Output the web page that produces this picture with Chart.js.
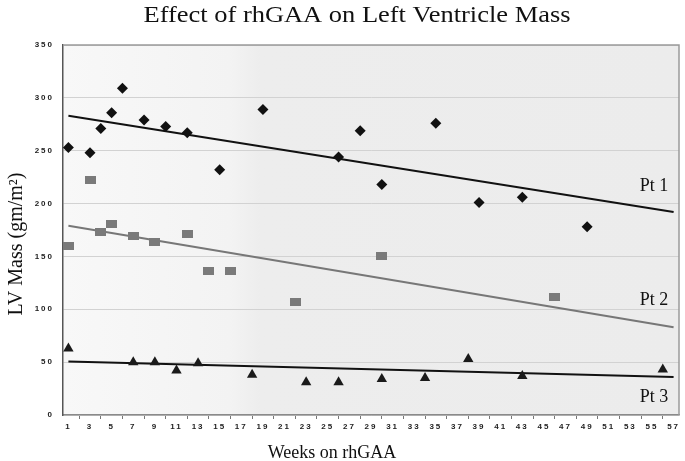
<!DOCTYPE html>
<html>
<head>
<meta charset="utf-8">
<script src="https://cdn.jsdelivr.net/npm/chart.js@4/dist/chart.umd.min.js"></script>
<style>
  html, body { margin: 0; padding: 0; background: #fff; }
  #wrap { width: 685px; height: 461px; }
</style>
</head>
<body>
<div id="wrap"><canvas id="lvmass"></canvas></div>
<script>
// values
const weeks1 = [1, 3, 4, 5, 6, 8, 10, 12, 15, 19, 26, 28, 30, 35, 39, 43, 49];
const pt1Mass = [253, 248, 271, 286, 309, 279, 273, 267, 232, 289, 244, 269, 218, 276, 201, 206, 178];
const weeks2 = [1, 3, 4, 5, 7, 9, 12, 14, 16, 22, 30, 46];
const pt2Mass = [160, 222, 173, 181, 169, 164, 171, 136, 136, 107, 150, 112];
const weeks3 = [1, 7, 9, 11, 13, 18, 23, 26, 30, 34, 38, 43, 56];
const pt3Mass = [63, 50, 50, 42, 49, 38, 31, 31, 34, 35, 53, 37, 43];

const trendWeeks = [1, 57];
const pt1Trend = [283, 192];
const pt2Trend = [179, 83];
const pt3Trend = [50.5, 36];

const weekTicks = [];
for (let w = 1; w <= 57; w++) weekTicks.push(w);
const massTicks = [0, 50, 100, 150, 200, 250, 300, 350];

const seriesNames = ['Pt 1', 'Pt 2', 'Pt 3'];
const nameAt = [[56.5, 212], [56.5, 104], [56.5, 12]];

const toXY = (xs, ys) => xs.map((x, i) => ({ x: x, y: ys[i] }));

// wide grey box marker for Pt 2
const box = document.createElement('canvas');
box.width = 11; box.height = 8;
const bctx = box.getContext('2d');
bctx.fillStyle = '#7a7a7a';
bctx.fillRect(0, 0, 11, 8);

const serif = '"Liberation Serif", "Times New Roman", serif';

const decor = {
  id: 'decor',
  beforeDraw(chart) {
    const { ctx, chartArea: a } = chart;
    const g = ctx.createLinearGradient(a.left, 0, a.right, 0);
    g.addColorStop(0, '#f8f8f8');
    g.addColorStop(0.27, '#f3f3f3');
    g.addColorStop(0.32, '#ededed');
    g.addColorStop(1, '#ececec');
    ctx.save();
    ctx.fillStyle = g;
    ctx.fillRect(a.left, a.top, a.right - a.left, a.bottom - a.top);
    ctx.restore();
    // spaced-out tick digits
    Object.values(chart.scales).forEach(s => {
      if (s._spaced) return;
      const orig = s.drawLabels;
      s.drawLabels = function (area) {
        this.ctx.save();
        this.ctx.letterSpacing = '2px';
        orig.call(this, area);
        this.ctx.restore();
      };
      s._spaced = true;
    });
  },
  beforeDatasetsDraw(chart) {
    const { ctx, chartArea: a } = chart;
    ctx.save();
    ctx.strokeStyle = '#9a9a9a';
    ctx.lineWidth = 1.5;
    ctx.beginPath();
    ctx.moveTo(a.left, a.top);
    ctx.lineTo(a.right, a.top);
    ctx.lineTo(a.right, a.bottom);
    ctx.stroke();
    ctx.restore();
  },
  afterDraw(chart) {
    const { ctx } = chart;
    const xs = chart.scales.x, ys = chart.scales.y;
    ctx.save();
    ctx.fillStyle = '#111';
    ctx.textAlign = 'center';
    ctx.textBaseline = 'alphabetic';

    // title, a little wider than the font's own width
    ctx.save();
    ctx.translate(357, 22);
    ctx.scale(1.15, 1);
    ctx.font = '23px ' + serif;
    ctx.fillText('Effect of rhGAA on Left Ventricle Mass', 0, 0);
    ctx.restore();

    ctx.font = '18px ' + serif;
    ctx.fillText('Weeks on rhGAA', 332, 458);

    ctx.save();
    ctx.translate(17, 244);
    ctx.rotate(-Math.PI / 2);
    ctx.textBaseline = 'middle';
    ctx.font = '20px ' + serif;
    ctx.fillText('LV Mass (gm/m\u00B2)', 0, 0);
    ctx.restore();

    ctx.textAlign = 'right';
    ctx.font = '18px ' + serif;
    seriesNames.forEach((n, i) => {
      ctx.fillText(n, xs.getPixelForValue(nameAt[i][0]), ys.getPixelForValue(nameAt[i][1]));
    });
    ctx.restore();
  }
};

new Chart(document.getElementById('lvmass'), {
  type: 'scatter',
  data: {
    datasets: [
      { label: 'Pt 1', data: toXY(weeks1, pt1Mass), pointStyle: 'rectRot', pointRadius: 5.5,
        backgroundColor: '#111', borderColor: '#111', borderWidth: 0 },
      { label: 'Pt 2', data: toXY(weeks2, pt2Mass), pointStyle: box, pointRadius: 5,
        backgroundColor: '#7a7a7a', borderColor: '#7a7a7a', borderWidth: 0 },
      { label: 'Pt 3', data: toXY(weeks3, pt3Mass), pointStyle: 'triangle', pointRadius: 6,
        backgroundColor: '#1a1a1a', borderColor: '#1a1a1a', borderWidth: 0 },
      { type: 'line', label: 'Pt 1 trend', data: toXY(trendWeeks, pt1Trend), showLine: true,
        borderColor: '#111', borderWidth: 2, pointRadius: 0 },
      { type: 'line', label: 'Pt 2 trend', data: toXY(trendWeeks, pt2Trend), showLine: true,
        borderColor: '#777', borderWidth: 2, pointRadius: 0 },
      { type: 'line', label: 'Pt 3 trend', data: toXY(trendWeeks, pt3Trend), showLine: true,
        borderColor: '#111', borderWidth: 2, pointRadius: 0 }
    ]
  },
  options: {
    responsive: true,
    maintainAspectRatio: false,
    animation: false,
    layout: { padding: { top: 45, right: 5, left: 0, bottom: 0 } },
    plugins: {
      legend: { display: false },
      title: { display: false },
      tooltip: { enabled: false }
    },
    scales: {
      x: {
        type: 'linear',
        min: 0.5,
        max: 57.5,
        afterBuildTicks: s => { s.ticks = weekTicks.map(v => ({ value: v })); },
        afterFit: s => { s.height = 46; },
        ticks: {
          autoSkip: false,
          maxRotation: 0,
          padding: 3,
          color: '#222',
          font: { family: 'Arial, "Liberation Sans", sans-serif', size: 8, weight: 'bold' },
          callback: v => (v % 2 === 1 ? String(v) : '')
        },
        grid: {
          drawOnChartArea: false,
          tickLength: 4,
          color: c => (c.tick && c.tick.value % 2 === 0 ? '#777' : 'rgba(0,0,0,0)')
        },
        border: { color: '#8a8a8a', width: 1.5 }
      },
      y: {
        min: 0,
        max: 350,
        afterBuildTicks: s => { s.ticks = massTicks.map(v => ({ value: v })); },
        afterFit: s => { s.width = 63; },
        ticks: {
          padding: 9,
          color: '#222',
          font: { family: 'Arial, "Liberation Sans", sans-serif', size: 8, weight: 'bold' }
        },
        grid: { color: '#d2d2d2', lineWidth: 1, drawTicks: false },
        border: { color: '#555', width: 1.5 }
      }
    }
  },
  plugins: [decor]
});
</script>
</body>
</html>
